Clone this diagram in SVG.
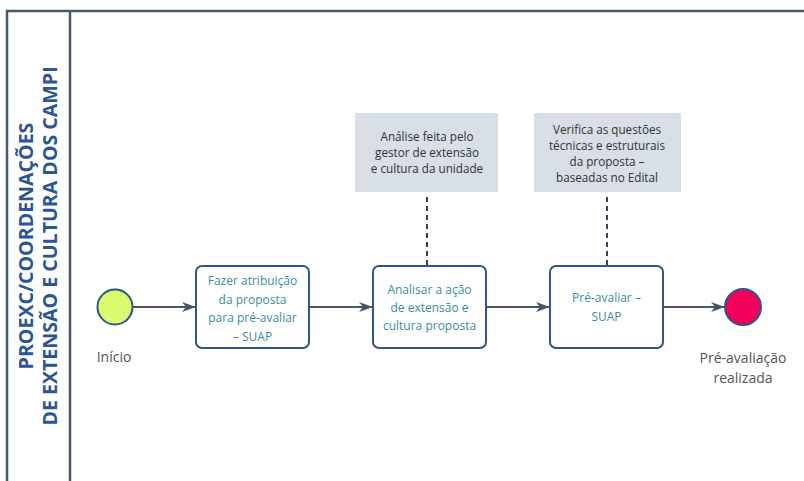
<svg xmlns="http://www.w3.org/2000/svg" width="804" height="481" viewBox="0 0 804 481">
<style>
.frame{fill:none;stroke:#4a5a72;stroke-width:2.5}
.task rect{fill:#fff;stroke:#2f5687;stroke-width:2}
.task text{font-family:"Open Sans",sans-serif;font-size:12px;fill:#3a8e9f;text-anchor:middle}
.note rect{fill:#d8dfe7}
.note text{font-family:"Open Sans",sans-serif;font-size:11.7px;fill:#333;text-anchor:middle}
.lbl{font-family:"Open Sans",sans-serif;font-size:14px;fill:#555;text-anchor:middle}
.flow{stroke:#4b5565;stroke-width:2;fill:none;marker-end:url(#ah)}
.assoc{stroke:#34445c;stroke-width:2;fill:none;stroke-dasharray:5,4}
.title{font-family:"Open Sans",sans-serif;font-weight:bold;font-size:19.6px;fill:#2c5693;text-anchor:middle}
</style>
<defs>
<marker id="ah" viewBox="0 0 14 10" refX="14" refY="5" markerWidth="14" markerHeight="10" markerUnits="userSpaceOnUse" orient="auto">
<path d="M0,0 L14,5 L0,10 L4,5 Z" fill="#4b5565"/>
</marker>
</defs>
<g id="pool">
<path class="frame" d="M7,481 V11 H804"/>
<line class="frame" x1="70" y1="11" x2="70" y2="481"/>
<text class="title" transform="translate(33,246) rotate(-90)">PROEXC/COORDENAÇÕES</text>
<text class="title" transform="translate(57,246) rotate(-90)">DE EXTENSÃO E CULTURA DOS CAMPI</text>
</g>
<g id="connectors">
<line class="flow" x1="133" y1="307" x2="196" y2="307"/>
<line class="flow" x1="310" y1="307" x2="373" y2="307"/>
<line class="flow" x1="487" y1="307" x2="550" y2="307"/>
<line class="flow" x1="664" y1="307" x2="725" y2="307"/>
<line class="assoc" x1="427" y1="197" x2="427" y2="266"/>
<line class="assoc" x1="607" y1="197" x2="607" y2="266"/>
</g>
<g id="start">
<circle cx="115" cy="307" r="17.5" fill="#d8fc6e" stroke="#2f5687" stroke-width="2"/>
<text class="lbl" x="114" y="362">Início</text>
</g>
<g id="task1" class="task">
<rect x="196" y="266" width="113" height="82" rx="6"/>
<text x="252.5" y="285">Fazer atribuição</text>
<text x="252.5" y="304">da proposta</text>
<text x="252.5" y="322">para pré-avaliar</text>
<text x="252.5" y="341">– SUAP</text>
</g>
<g id="task2" class="task">
<rect x="373" y="266" width="113" height="82" rx="6"/>
<text x="429.5" y="294">Analisar a ação</text>
<text x="429.5" y="312">de extensão e</text>
<text x="429.5" y="330">cultura proposta</text>
</g>
<g id="task3" class="task">
<rect x="550" y="266" width="113" height="82" rx="6"/>
<text x="606.5" y="302">Pré-avaliar –</text>
<text x="606.5" y="321">SUAP</text>
</g>
<g id="end">
<circle cx="743" cy="307" r="18" fill="#f0005a" stroke="#2f5687" stroke-width="2"/>
<text class="lbl" x="743" y="363">Pré-avaliação</text>
<text class="lbl" x="743" y="383">realizada</text>
</g>
<g id="note1" class="note">
<rect x="355" y="113" width="143" height="79"/>
<text x="427" y="141">Análise feita pelo</text>
<text x="427" y="157">gestor de extensão</text>
<text x="427" y="173">e cultura da unidade</text>
</g>
<g id="note2" class="note">
<rect x="534" y="113" width="147" height="79"/>
<text x="607" y="134">Verifica as questões</text>
<text x="607" y="150">técnicas e estruturais</text>
<text x="607" y="166">da proposta –</text>
<text x="607" y="182">baseadas no Edital</text>
</g>
</svg>
